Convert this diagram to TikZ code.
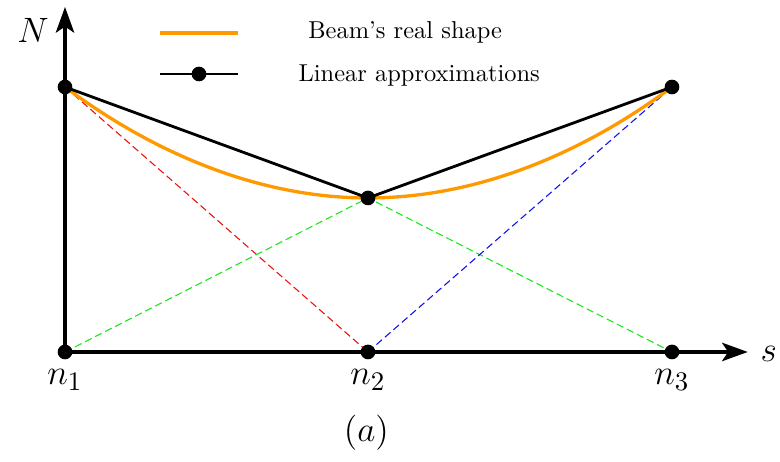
\documentclass[tikz,border=0pt]{standalone}
\usetikzlibrary{arrows.meta}
\usepackage{xcolor}
\definecolor{beamorange}{RGB}{255,153,0}
\definecolor{shapegreen}{RGB}{30,230,30}
\definecolor{shapered}{RGB}{235,20,20}
\definecolor{shapeblue}{RGB}{20,20,235}

\tikzset{
  axisline/.style={line width=1.4pt, -{Stealth[length=10.5pt,width=7.5pt,inset=2.5pt]}},
  beamline/.style={beamorange, line width=1.35pt},
  approxline/.style={black, line width=1.15pt},
  shapefn/.style={dashed, line width=0.45pt, dash pattern=on 3pt off 1.6pt},
  nodedot/.style={black},
  mathlabel/.style={font=\fontsize{15.8}{19}\selectfont, anchor=base},
}

\begin{document}
\begin{tikzpicture}
  \useasboundingbox (-0.934,-1.580) rectangle (10.273,5.057);
  % Element nodes and nodal values
  \coordinate (n1) at (0,0);
  \coordinate (n2) at (4.353,0);
  \coordinate (n3) at (8.721,0);
  \coordinate (t1) at (0,3.807);
  \coordinate (t2) at (4.353,2.213);
  \coordinate (t3) at (8.721,3.807);
  \coordinate (ytip) at (0,4.957);
  \coordinate (xtip) at (9.81,0);
  % Shape functions
  \draw[shapefn, shapered] (t1) -- (n2);
  \draw[shapefn, shapegreen] (n1) -- (t2) -- (n3);
  \draw[shapefn, shapeblue] (n2) -- (t3);
  % Beam's real shape
  \draw[beamline] (t1) parabola bend (t2) (t3);
  % Linear approximations
  \draw[approxline] (t1) -- (t2) -- (t3);
  % Axes
  \draw[axisline] (n1) -- (ytip);
  \draw[axisline] (n1) -- (xtip);
  \foreach \p in {n1,n2,n3,t1,t2,t3} {
    \fill[nodedot] (\p) circle (3pt);
  }
  % Axis and node labels
  \node[mathlabel] (lblN) at (-0.46,4.44) {$N$};
  \node[mathlabel] (lbls) at (10.11,-0.144) {$s$};
  \node[mathlabel] (lbln1) at (0,-0.474) {$n_1$};
  \node[mathlabel] (lbln2) at (4.353,-0.474) {$n_2$};
  \node[mathlabel] (lbln3) at (8.721,-0.474) {$n_3$};
  \node[mathlabel] (caption) at (4.33,-1.293) {$(a)$};
  % Legend
  \coordinate (leg1a) at (1.365,4.583);
  \coordinate (leg1b) at (2.486,4.583);
  \coordinate (leg2a) at (1.365,3.994);
  \coordinate (leg2b) at (2.486,3.994);
  \coordinate (leg2m) at (1.925,3.994);
  \draw[beamline] (leg1a) -- (leg1b);
  \draw[approxline] (leg2a) -- (leg2b);
  \fill[nodedot] (leg2m) circle (3pt);
  \node[anchor=base west, inner sep=0pt] (legtxt1) at (3.49,4.497) {Beam's real shape};
  \node[anchor=base west, inner sep=0pt] (legtxt2) at (3.35,3.88) {Linear approximations};
\end{tikzpicture}
\end{document}
